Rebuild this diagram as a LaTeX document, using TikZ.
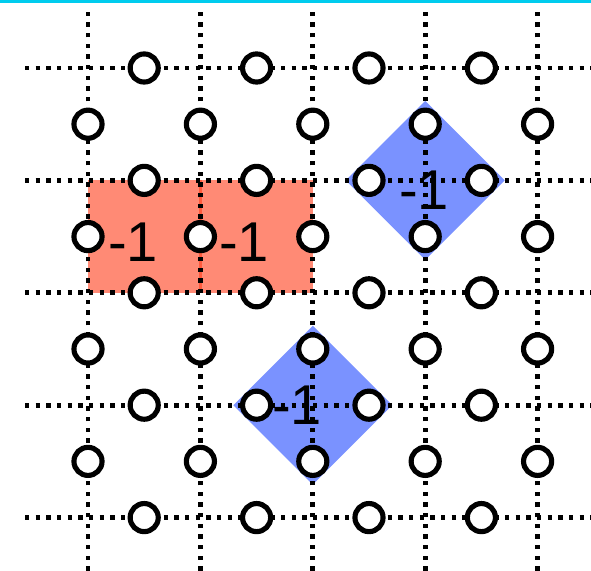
\documentclass[tikz,border=0pt]{standalone}
\usepackage{fontspec}
\setmainfont{Liberation Sans}
\usepackage{xcolor}
\definecolor{plaqred}{RGB}{255,60,25}
\definecolor{starblue}{RGB}{122,146,255}
\definecolor{framecyan}{RGB}{0,204,238}
\tikzset{
  bond/.style={line width=1.2pt, dash pattern=on 1.1pt off 1.6pt},
  site/.style={circle, draw, line width=1.3pt, fill=white, inner sep=0pt, minimum size=0.25cm},
  charge/.style={font=\fontsize{14.2}{16}\selectfont, inner sep=0pt},
}

\begin{document}
\begin{tikzpicture}
\useasboundingbox (-0.783,-0.4715) rectangle (4.475,4.605);
% === top rule ===
\draw[framecyan, line width=0.75pt] (-0.783,4.592) -- (4.475,4.592);
% === plaquette operators (red) ===
\fill[plaqred, fill opacity=0.6] (0,2) rectangle (1.01,3);
\fill[plaqred, fill opacity=0.6] (0.99,2) rectangle (2,3);
% === star operators (blue) ===
\foreach \cx/\cy in {3/3, 2/1} {
    \fill[starblue] (\cx-0.707,\cy) -- (\cx,\cy+0.707) -- (\cx+0.707,\cy) -- (\cx,\cy-0.707) -- cycle;
}
\node[charge] (pa) at (0.40,2.45) {-1};
\node[charge] (pb) at (1.39,2.45) {-1};
\node[charge] (sa) at (2.99,2.91) {-1};
\node[charge] (sb) at (1.86,1.00) {-1};
% === lattice bonds ===
\foreach \i in {0,...,4} {
    \draw[bond] (\i,-0.4715) -- (\i,4.498);
    \draw[bond] (-0.56,\i) -- (4.475,\i);
}
% === spins on the links ===
\foreach \i in {0,...,3} {
    \foreach \j in {0,...,4} {
        \node[site] (h-\i-\j) at (\i+0.5,\j) {};
    }
}
\foreach \i in {0,...,4} {
    \foreach \j in {0,...,3} {
        \node[site] (v-\i-\j) at (\i,\j+0.5) {};
    }
}
\end{tikzpicture}
\end{document}
